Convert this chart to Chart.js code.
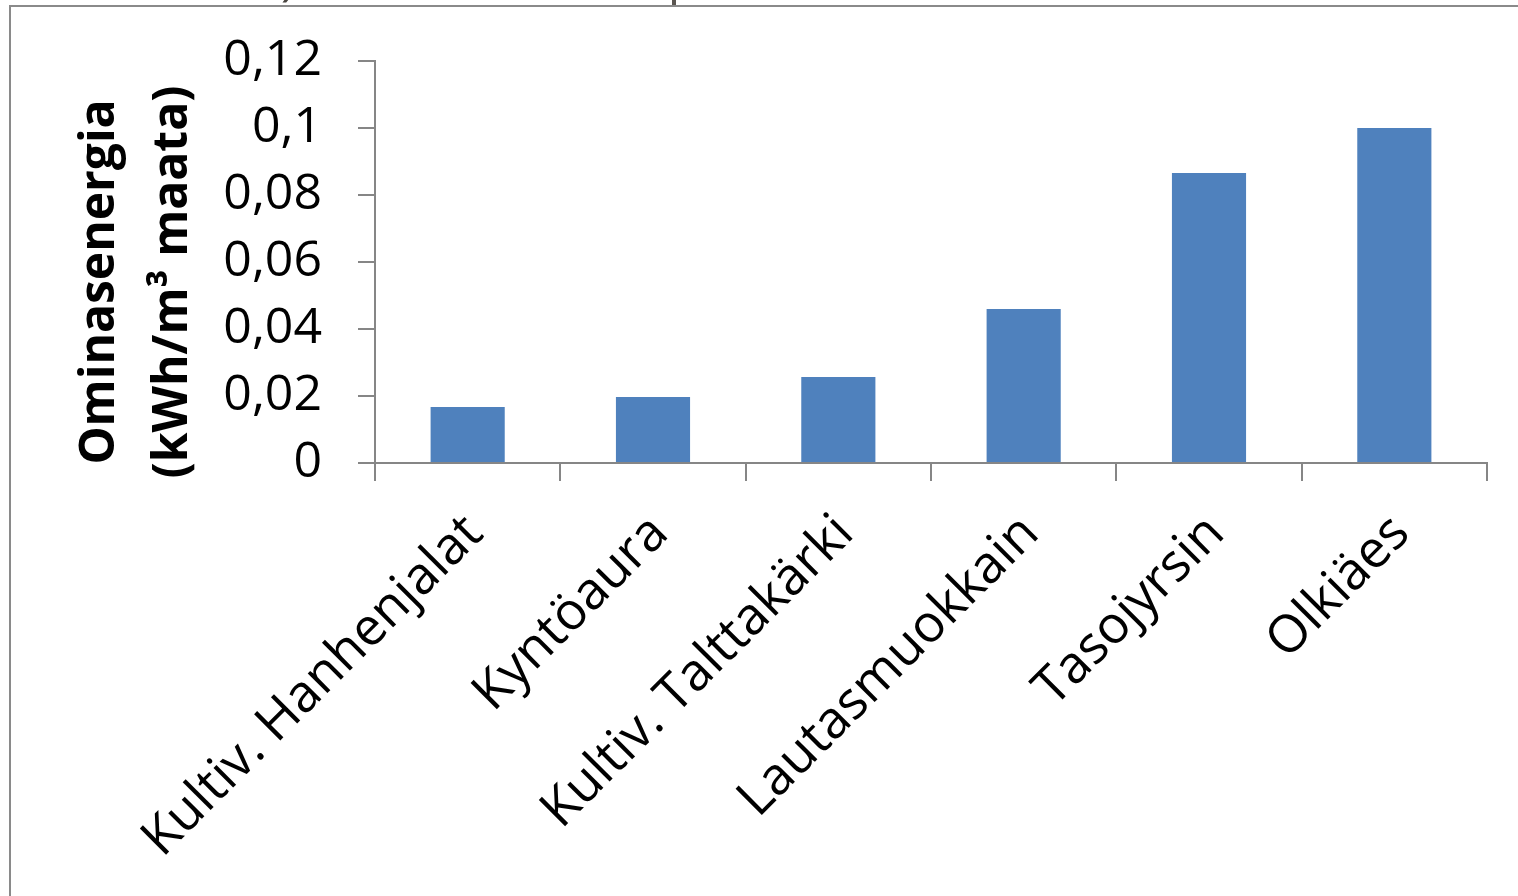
<!DOCTYPE html>
<html>
<head>
<meta charset="utf-8">
<script src="https://cdn.jsdelivr.net/npm/chart.js@4/dist/chart.umd.min.js"></script>
<style>
  html, body { margin: 0; padding: 0; background: #ffffff; }
  #wrap { position: relative; width: 1518px; height: 896px; }
</style>
</head>
<body>
<div id="wrap"><canvas id="c" width="1518" height="896"></canvas></div>
<script>
// Specific energy per tillage implement
const categories = ['Kultiv. Hanhenjalat', 'Kyntöaura', 'Kultiv. Talttakärki', 'Lautasmuokkain', 'Tasojyrsin', 'Olkiäes'];
const energyValues = [0.0167, 0.0197, 0.0257, 0.046, 0.0866, 0.100];
const yTickLabels = ['0', '0,02', '0,04', '0,06', '0,08', '0,1', '0,12'];
const yTitleLines = ['Ominasenergia', '(kWh/m³ maata)'];

const AXIS_GREY = '#868686';
const BAR_BLUE = '#4F81BD';
const FONT = '"Open Sans", "Noto Sans", sans-serif';

// Frame of the chart object plus the clipped edge of the element above it
const framePlugin = {
  id: 'frame',
  beforeDraw(chart) {
    const ctx = chart.ctx;
    ctx.save();
    ctx.fillStyle = '#ffffff';
    ctx.fillRect(0, 0, chart.width, chart.height);
    ctx.strokeStyle = '#8a8a8a';
    ctx.lineWidth = 2;
    ctx.beginPath();
    ctx.moveTo(10, chart.height);
    ctx.lineTo(10, 6);
    ctx.lineTo(chart.width, 6);
    ctx.stroke();
    // cut-off remnants above the frame
    ctx.beginPath();
    ctx.rect(0, 0, chart.width, 5);
    ctx.clip();
    ctx.fillStyle = '#4a4540';
    ctx.font = '48px ' + FONT;
    ctx.textBaseline = 'alphabetic';
    ctx.fillText(')', 281, -5);
    ctx.fillStyle = '#5a5550';
    ctx.fillRect(672, 0, 4, 5);
    ctx.restore();
  }
};

// Two-line rotated value-axis title
const yTitlePlugin = {
  id: 'yTitle',
  afterDraw(chart) {
    const ctx = chart.ctx;
    const centres = [100, 173];
    ctx.save();
    ctx.fillStyle = '#000000';
    ctx.font = 'bold 48px ' + FONT;
    ctx.textAlign = 'center';
    ctx.textBaseline = 'middle';
    yTitleLines.forEach((line, i) => {
      ctx.save();
      ctx.translate(centres[i], 282);
      ctx.rotate(-Math.PI / 2);
      ctx.fillText(line, 0, 0);
      ctx.restore();
    });
    ctx.restore();
  }
};

new Chart(document.getElementById('c'), {
  type: 'bar',
  data: {
    labels: categories,
    datasets: [{
      data: energyValues,
      backgroundColor: BAR_BLUE,
      borderWidth: 0,
      barPercentage: 0.4,
      categoryPercentage: 1.0
    }]
  },
  plugins: [framePlugin, yTitlePlugin],
  options: {
    responsive: false,
    animation: false,
    events: [],
    layout: { padding: { left: 0, top: 61, right: 31, bottom: 0 } },
    plugins: {
      legend: { display: false },
      tooltip: { enabled: false },
      title: { display: false }
    },
    scales: {
      x: {
        grid: {
          display: true,
          offset: true,
          drawOnChartArea: false,
          drawTicks: true,
          tickLength: 18,
          color: AXIS_GREY,
          lineWidth: 2
        },
        border: { display: true, color: AXIS_GREY, width: 2 },
        ticks: {
          autoSkip: false,
          maxRotation: 45,
          minRotation: 45,
          padding: 22,
          labelOffset: 7,
          color: '#000000',
          font: { family: FONT, size: 52 }
        },
        afterFit(scale) { scale.height = 896 - 463; }
      },
      y: {
        min: 0,
        max: 0.12,
        grid: {
          display: true,
          drawOnChartArea: false,
          drawTicks: true,
          tickLength: 17,
          color: AXIS_GREY,
          lineWidth: 2
        },
        border: { display: true, color: AXIS_GREY, width: 2 },
        ticks: {
          stepSize: 0.02,
          padding: 36,
          color: '#000000',
          font: { family: FONT, size: 50 },
          callback: (value, index) => yTickLabels[index]
        },
        afterFit(scale) {
          scale.width = 375;
          // the plot frame is fixed by the layout padding, not by label overhang
          scale.paddingTop = 0;
          scale.paddingBottom = 0;
        }
      }
    }
  }
});
</script>
</body>
</html>
